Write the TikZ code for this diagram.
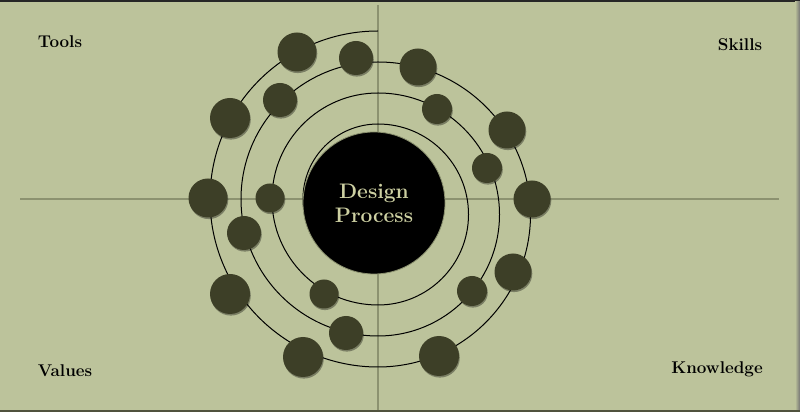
\documentclass[tikz,border=0pt]{standalone}
\usepackage{fontspec}
\usetikzlibrary{shadows}

\definecolor{paper}{RGB}{188,195,155}
\definecolor{planetgreen}{RGB}{61,63,39}
\definecolor{axisgreen}{RGB}{140,146,112}
\definecolor{titlegreen}{RGB}{205,208,162}

\tikzset{
	planet/.style={circle, fill=planetgreen, inner sep=0pt, minimum size=#1,
		drop shadow={shadow xshift=0.8pt, shadow yshift=-1.6pt, opacity=0.35, fill=black}},
	corner/.style={anchor=base, font=\fontsize{17}{20}\selectfont\bfseries},
	axis/.style={draw=axisgreen, line width=1.2pt},
	spiral/.style={draw=black, line width=1pt}
}

\begin{document}
\begin{tikzpicture}[x=1pt, y=1pt]
		% Background
		\useasboundingbox (0,0) rectangle (800,412);
		\fill[paper] (0,0) rectangle (800,412);
		\fill[black!85] (0,410) rectangle (800,412);
		\fill[planetgreen!90] (0,0) rectangle (800,2);
		\shade[left color=paper, right color=black!55] (795,2) rectangle (800,410);
		
		% Axes
		\coordinate (west) at (20,213);
		\coordinate (east) at (779,213);
		\coordinate (north) at (378,407);
		\coordinate (south) at (378,2);
		\draw[axis] (west) -- (east);
		\draw[axis] (north) -- (south);
		
		% Spiral
		\draw[spiral] (378,381)
			arc[start angle=90, end angle=270, radius=168pt]
			arc[start angle=-90, end angle=90, radius=152.5pt]
			arc[start angle=90, end angle=270, radius=137pt]
			arc[start angle=-90, end angle=90, radius=121.5pt]
			arc[start angle=90, end angle=270, radius=106pt]
			arc[start angle=-90, end angle=90, radius=90.5pt]
			arc[start angle=90, end angle=215, radius=75pt];
		
		% Planets
		\foreach \i/\x/\y/\d in {1/297/360/39, 2/230/294/40, 3/208/214/39, 4/230/118/40,
			5/303/55/40, 6/439/56/40, 7/513/140/37, 8/532/213/37, 9/507/282/37,
			10/418/345/37, 11/356/354/34, 12/280/312/34, 13/244/179/34, 14/346/79/34,
			15/472/121/30, 16/487/244/30, 17/437/303/30, 18/270/214/29, 19/324/118/29} {
			\node[planet=\d pt] (planet\i) at (\x,\y) {};
		}
		
		% Core
		\node[circle, fill=black, draw=axisgreen, line width=0.8pt, minimum size=142pt,
			inner sep=0pt, align=center, text=titlegreen,
			font=\fontsize{21}{24}\selectfont\bfseries] (core) at (374,209) {Design\\Process};
		
		% Corners
		\node[corner] (tools) at (60,364) {Tools};
		\node[corner] (skills) at (740,361) {Skills};
		\node[corner] (values) at (65,35) {Values};
		\node[corner] (knowledge) at (717,38) {Knowledge};
	\end{tikzpicture}
\end{document}
